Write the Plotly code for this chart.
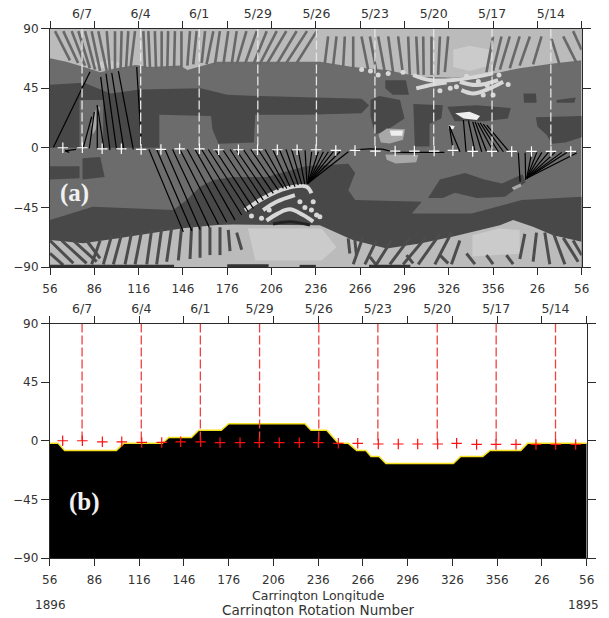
import plotly.graph_objects as go

# ---------- data (Carrington longitude unrolled 56..416, latitude in degrees) ----------
lon_ticks = [56, 86, 116, 146, 176, 206, 236, 266, 296, 326, 356, 386, 416]
lon_labels = ["56", "86", "116", "146", "176", "206", "236", "266", "296", "326", "356", "26", "56"]
lat_ticks = [-90, -45, 0, 45, 90]
date_lons = [77.7, 117.4, 157, 196.7, 236.4, 276, 315.8, 355.3, 395.1]
date_labels = ["6/7", "6/4", "6/1", "5/29", "5/26", "5/23", "5/20", "5/17", "5/14"]

plus_lon = [64.7, 77.9, 91.3, 104.3, 117.7, 131.1, 143.8, 157.2, 170.2, 183.6, 196.5, 209.9, 223.3, 236.1,
            249.5, 262.5, 276.3, 289.7, 302.7, 316.1, 328.8, 342.2, 355.2, 368.6, 382, 395.2, 408.6]
plus_lat = [0, 0, -0.8, -0.8, -1.3, -1.3, -0.8, -0.8, -1.5, -1.5, -1.5, -1.5, -1.5, -1.5,
            -2, -2, -2.5, -2.5, -2.5, -2.5, -2, -2.8, -2.8, -2.8, -2.8, -2.8, -2.8]

# panel (b) neutral-line boundary
ns_lon = [56, 61.6, 66, 100.7, 105.6, 131.5, 135.8, 151, 155.9, 171, 176, 227.1, 231.2, 241.7, 249.5,
          256.2, 261.8, 268, 271.4, 276.8, 281.4, 326.6, 331.5, 346.3, 351.2, 371.8, 376.3, 416]
ns_lat = [-2, -2, -7.4, -7.4, -2, -2, 2.5, 2.5, 8, 8, 13, 13, 8, 8, -2,
          -2, -7.4, -7.4, -12, -12, -17.4, -17.4, -12, -12, -7.4, -7.4, -2, -2]

# panel (a) dark regions: polygons of (lon, lat)
dark_regions = [
    [(56, 47.5), (79, 49), (97, 41), (117, 44), (158, 45), (176, 40), (198, 39), (225, 38), (267, 37), (272, 32),
     (267, 26), (229, 25), (195, 25), (194, 4), (170, 3), (166, 14), (165, 24), (130, 25), (130, 0), (92, 0),
     (92, 36), (76, 36), (76, 0), (56, 0)],
    [(273, 36), (279, 39), (293, 36), (296, 22), (285, 14), (276, 10), (273, 24)],
    [(302, 33), (322, 32), (321, 22), (313, 18), (313, 1), (303, 1)],
    [(325, 31), (345, 32), (368, 30), (366, 22), (350, 20), (330, 20)],
    [(283, 51), (297, 51), (299, 40), (288, 40), (283, 45)],
    [(376.5, 41), (385, 41), (385.5, 34), (377, 34)],
    [(399, 36), (412, 38), (411, 34), (399, 34)],
    [(385, 23), (416, 24), (416, 8), (405, 4), (396, 3), (392, 10), (386, 16)],
    [(56, -54.6), (85, -44.5), (139.5, -47), (148.5, -39.5), (157.6, -29.4), (166.6, -24.4), (180, -22), (202.7, -22),
     (229, -14), (258, -12), (262.6, -19), (258, -32), (262.6, -39.5), (307.7, -40.8), (301, -49.6), (341.5, -49.6),
     (375.4, -39.5), (416, -37), (416, -90), (56, -90)],
    [(312, -38), (320, -24), (337, -19), (350, -24), (362, -27), (376, -20), (378, -26), (364, -37), (345, -38),
     (330, -34), (322, -38)],
    [(56, -14), (76, -14), (76, -23), (56, -24)],
    [(78, -8), (90, -7), (93, -22), (78, -24)],
]

north_band = [(56, 90), (416, 90), (416, 66), (396.7, 63.6), (374, 60), (351.6, 55), (329, 52.8), (306, 53.6),
              (284, 58.6), (261, 61), (238.7, 65), (191, 65), (169, 65), (149, 58.6), (144, 62), (123, 61),
              (114, 62.4), (101, 60), (90, 57), (79, 61), (67, 65), (56, 67.5)]
south_band = [(56, -69.6), (78.6, -72), (101, -68.4), (124, -64.6), (146, -60.8), (169, -58.3), (180, -58), (238.7, -58.4),
              (261, -69.7), (284, -76), (306.4, -72.2), (329, -67), (342.5, -63.4), (360.6, -58.4), (369.6, -54.6),
              (383, -59.6), (396.7, -66), (416, -71), (416, -90), (56, -90)]
pale_patches = [
    [(329, 74), (340, 77), (354, 74), (354, 62), (340, 58), (329, 61)],
    [(342, -66), (360, -61), (374, -62), (374, -80), (342, -82)],
    [(190, -61), (240, -61), (250, -75), (240, -85), (195, -85)],
    [(84, 64), (90, 60), (100, 60), (104, 64), (96, 66)],
]
blob_grey = [
    [(278.4, 10), (284, 14.6), (296.4, 14), (295, 6), (286, 3.3), (280, 4)],
    [(283, -5), (305.4, -5.5), (304, -11), (290, -11.8), (284, -9)],
    [(368.6, -30), (374.5, -26.9), (375.4, -29), (370, -32)],
    [(84, 18), (88, 32), (90, 30), (87, 14), (85, 10)],
]
blob_white = [
    [(330.3, 26), (340, 27.2), (347.2, 24), (345, 21), (336, 22)],
    [(286, 13), (295, 13), (294.5, 9), (287, 9)],
    [(326, 17), (330, 16.5), (329, 14), (326, 14.5)],
]

# dark gaps between the open-field streaks: (lon_top, lat_top, lon_bottom, lat_bottom)
north_gaps = [
    (59.4, 88, 69.5, 66), (65, 88, 75, 64), (70.7, 88, 79.7, 62), (75.2, 88, 83, 60), (79.7, 88, 86.5, 59), (84.2, 88, 89.9, 58),
    (88.7, 88, 94.4, 58), (94.4, 88, 96.6, 58), (100, 88, 100, 59), (104.5, 88, 103.8, 59), (109, 88, 107.5, 60), (113.6, 88, 110.6, 61),
    (119.2, 88, 120.3, 60), (122.6, 88, 123.7, 60), (127, 88, 127.8, 59), (131.6, 88, 131.6, 59), (136, 88, 135.4, 59), (140.6, 88, 140, 60),
    (145, 88, 145, 61), (150.8, 88, 149, 62), (155.3, 88, 153, 63), (161, 88, 158.7, 64), (166.6, 88, 162, 63), (171, 88, 167.7, 63),
    (176.7, 88, 173.4, 63), (182.4, 88, 179, 63), (189, 88, 182.4, 63), (196, 88, 188, 63), (202.7, 88, 193.7, 63), (209.5, 88, 198, 63),
    (216, 88, 202.7, 63), (223, 88, 209.5, 63), (230, 88, 216, 64), (236.6, 88, 223, 64),
    (244.3, 84, 242, 63), (250, 84, 247.7, 62), (255.6, 84, 254.5, 61), (261.3, 84, 261.3, 60), (266.9, 84, 271.4, 59), (272.6, 84, 277, 58),
    (278.2, 84, 282.7, 57), (285, 84, 288.4, 56), (291.7, 84, 295, 55), (298.5, 84, 299.6, 55), (304, 84, 305.3, 55), (308.7, 84, 309, 55),
    (314.3, 84, 314.3, 55), (320, 84, 318.8, 55), (325.6, 84, 323.3, 57), (356, 84, 351.5, 57), (361.7, 84, 356, 58), (367.3, 84, 360.6, 59),
    (374, 84, 367.3, 60), (380.9, 84, 374, 62), (388.8, 84, 383.1, 63), (395.6, 82, 401.2, 62), (403.5, 84, 412.5, 64), (410.2, 88, 415.9, 74),
]
south_gaps = [
    (56, -70, 71.8, -87.2), (63.9, -70, 80.8, -87.2), (71.8, -70, 87.6, -86), (56, -79.7, 65, -88.5), (80.8, -70, 89.9, -83.5),
    (89.9, -70, 84.2, -88), (97.8, -66, 92.1, -88), (104.5, -65, 98.9, -88), (111.3, -64, 106.8, -88), (118, -63, 113.6, -88),
    (124.8, -62, 121.5, -88), (131.6, -61, 128.2, -88), (138.4, -60, 135, -86), (145.2, -59, 142.9, -85), (151.9, -59, 150.8, -84),
    (157.6, -59, 157.6, -83), (164.3, -60, 164.3, -81), (171.1, -60, 171.1, -81), (176.7, -62, 177.9, -78), (182.4, -64, 185.8, -77),
    (257.9, -68.4, 259, -79.8), (262.4, -69.7, 263.5, -81), (268, -67, 261.3, -88), (277, -70, 269.2, -88), (287.2, -70, 277, -88),
    (299.6, -68, 286.1, -88), (310.9, -67, 295.1, -88), (320, -65, 305.3, -88), (327.8, -64, 316.6, -88), (333.5, -70, 327.8, -88),
    (377.5, -65, 374.1, -84), (385.4, -64, 383.1, -86), (391, -64, 394.4, -88), (396.7, -64, 404.6, -88), (403.5, -68, 413.6, -86),
    (410.2, -70, 416, -81), (272.6, -82.3, 277, -88.6), (297.4, -81, 301.9, -87.3), (320, -81, 325.6, -87.3), (338, -79.8, 343.7, -87.8),
    (351.5, -81, 356, -87.8), (365, -81, 369.6, -87.8),
]
south_edge_dark = [(56, -89.5, 140, -89.5), (176, -89, 204, -89), (225, -89.5, 236, -89.5), (272, -89.5, 300, -89.5)]

# bright arcs and dots
light_arcs = [
    [(301.9, 54.9), (313, 51.1), (329, 51.1), (344.8, 53.6), (356, 56.1)],
    [(304, 44.8), (315.4, 47.8), (324.5, 49.3)],
    [(333.5, 49.8), (344.8, 47.3), (359.4, 51.1)],
    [(334.6, 43.5), (342.5, 41), (353.8, 44.8), (362.8, 49.8)],
    [(188, -47), (200.3, -38.2), (216, -30.6), (229.7, -29.4), (233, -34.4)],
    [(200.3, -47), (209.4, -40.7), (221.8, -35.7)],
    [(202.6, -55), (210.5, -49.5), (218.4, -46.5), (227.4, -50.8), (234.2, -55.8)],
]
dark_arc = [(207, -57.6), (218.4, -55.8), (232, -58.3)]
dot_lon = [278.2, 285, 331.2, 349.3, 356, 366.2, 295, 225.2, 234.2, 228.6, 233, 236.5, 192.4, 199.2, 204.4, 238.7,
           267, 273, 320, 327, 338, 346, 352, 360]
dot_lat = [54.9, 56.1, 46, 39.8, 39.8, 47.8, 57, -40.7, -40.7, -45, -47, -50.8, -51.5, -53.3, -47, -52,
           59, 58, 43, 45, 54, 50, 47, 55]

# black field-line segments: (lon_equator, lat_equator, lon_end, lat_end)
field_lines = [
    (58.3, 0.3, 83.1, 57.4), (78.6, 0.3, 84.2, 23.4), (82.6, -0.5, 86, 27), (88, -1.3, 88, 32), (92.6, -1.3, 88, 32),
    (96.6, -1.8, 90.3, 53.5), (101.1, -1.8, 93.9, 56), (106.1, -1.8, 97.8, 56.5), (112.4, -1.3, 102.3, 57.9), (118, 0.3, 114.7, 61),
    (73.6, -1.3, 66.2, -2.3), (66.2, -2.3, 69, -3.5),
    (123, -1.3, 146.3, -63.5), (128.2, -1.3, 152, -62.7), (133.9, -1.3, 157.6, -61.7), (139, -1.3, 163.9, -60.2), (144, -1.3, 170, -57.7),
    (149, -1.3, 175.6, -56), (154.2, -1.3, 181.3, -54.6), (158.7, -1.3, 185.8, -50.8), (163.2, -1.3, 190.3, -48.3), (167.7, -1.3, 193.7, -45.8),
    (172.9, -1.3, 197.1, -42), (177.9, -1.3, 200.4, -39.5), (181.9, -1.3, 203.8, -37), (186.9, -1.3, 207.2, -34.5), (191.9, -1.3, 210.6, -32),
    (197, -1.3, 214, -30.7), (201.6, -1.3, 216.3, -30.7), (206.8, -1.3, 218.5, -29.4), (211.3, -1.3, 221.9, -29.4), (215.8, -1.3, 224.1, -28.2),
    (219.6, -1.3, 226.4, -27.7), (224, -1.5, 228.5, -27.5), (228.7, -2, 230, -27), (233.2, -3, 230.5, -27), (237.7, -3, 230.5, -27),
    (241.1, -3, 230.5, -27), (244.5, -3, 230.5, -27), (247.9, -3, 230.5, -27), (252.4, -3, 230.5, -27), (258, -3, 230.5, -27),
    (262.6, -1.5, 272, -0.8), (272, -0.8, 281, -1), (281, -1, 288, -3), (288, -3, 294, -3.5), (294, -3.5, 323, -3.5),
    (329.1, -3, 326.4, 16.4), (333.6, -3, 326.4, 16.4), (337.7, -3, 335.9, 20.9), (343.8, -3, 339.3, 20.4), (348.3, -3, 342.2, 19.6),
    (351.7, -3, 343.8, 19.6), (356.2, -3, 345.6, 18.9), (359.6, -3, 347.2, 18.9), (363, -3, 349.4, 17.9), (366.4, -2.3, 351.7, 17.1),
    (373.1, -3.8, 374.3, -25.7), (377.7, -3.8, 378.1, -24.4), (382.2, -3.5, 378.8, -23), (385.6, -3.5, 378.8, -23), (389, -3.5, 378.8, -23),
    (393.5, -3.5, 378.8, -23), (398, -3.5, 378.8, -23), (402.5, -3.5, 378.8, -23), (405.9, -3.5, 378.8, -23), (412.6, -4, 378.8, -23),
]

# ---------- colours ----------
MID, DARK, LIGHT, GAP = "#6c6c6c", "#484848", "#bbbbbb", "#686868"
INK = "#2a2a2a"


def poly(points, color):
    xs = [p[0] for p in points] + [points[0][0]]
    ys = [p[1] for p in points] + [points[0][1]]
    return go.Scatter(x=xs, y=ys, mode="lines", fill="toself", fillcolor=color, line=dict(width=0),
                      hoverinfo="skip", showlegend=False)


def segments(items, color, width):
    xs, ys = [], []
    for a, b, c, d in items:
        xs += [a, c, None]
        ys += [b, d, None]
    return go.Scatter(x=xs, y=ys, mode="lines", line=dict(color=color, width=width),
                      hoverinfo="skip", showlegend=False)


def dashed(color, xaxis, yaxis):
    xs, ys = [], []
    for v in date_lons:
        xs += [v, v, None]
        ys += [90, 0, None]
    return go.Scatter(x=xs, y=ys, mode="lines", xaxis=xaxis, yaxis=yaxis, hoverinfo="skip", showlegend=False,
                      line=dict(color=color, width=1.3, dash="9px,3px"))


def plus(color, xaxis, yaxis):
    return go.Scatter(x=plus_lon, y=plus_lat, mode="markers", xaxis=xaxis, yaxis=yaxis, hoverinfo="skip", showlegend=False,
                      marker=dict(symbol="cross-thin", size=7.5, line=dict(color=color, width=1.2)))


fig = go.Figure()
fig.add_trace(poly([(56, -90), (416, -90), (416, 90), (56, 90)], MID))
for region in dark_regions:
    fig.add_trace(poly(region, DARK))
fig.add_trace(poly(north_band, LIGHT))
fig.add_trace(poly(south_band, LIGHT))
for patch in pale_patches:
    fig.add_trace(poly(patch, "#cbcbcb"))
fig.add_trace(segments(north_gaps, GAP, 2.6))
fig.add_trace(segments(south_gaps, "#4c4c4c", 3))
fig.add_trace(segments(south_edge_dark, "#333333", 3))
for blob in blob_grey:
    fig.add_trace(poly(blob, "#a8a8a8"))
for blob in blob_white:
    fig.add_trace(poly(blob, "#eeeeee"))
for arc in light_arcs:
    fig.add_trace(go.Scatter(x=[p[0] for p in arc], y=[p[1] for p in arc], mode="lines", hoverinfo="skip", showlegend=False,
                             line=dict(color="#d8d8d8", width=4, shape="spline")))
fig.add_trace(go.Scatter(x=[p[0] for p in dark_arc], y=[p[1] for p in dark_arc], mode="lines", hoverinfo="skip", showlegend=False,
                         line=dict(color="#222222", width=3, shape="spline")))
fig.add_trace(go.Scatter(x=dot_lon, y=dot_lat, mode="markers", hoverinfo="skip", showlegend=False,
                         marker=dict(color="#d8d8d8", size=5, symbol="circle")))
fig.add_trace(segments(field_lines, "#000000", 1.2))
fig.add_trace(dashed("#e6e6e6", "x3", "y"))
fig.add_trace(plus("#ffffff", "x3", "y"))

fig.add_trace(go.Scatter(x=ns_lon, y=[-90] * len(ns_lon), mode="lines", line=dict(width=0), xaxis="x2", yaxis="y2",
                         hoverinfo="skip", showlegend=False))
fig.add_trace(go.Scatter(x=ns_lon, y=ns_lat, mode="lines", fill="tonexty", fillcolor="#000000", xaxis="x2", yaxis="y2",
                         line=dict(color="#f5e020", width=1.5), hoverinfo="skip", showlegend=False))
fig.add_trace(dashed("#f04040", "x4", "y2"))
fig.add_trace(plus("#ff1010", "x4", "y2"))

W, H = 609, 618
tick_font = dict(family="DejaVu Sans", size=12, color="#333333")
common_x = dict(range=[56, 416], tickmode="array", tickvals=lon_ticks, ticktext=lon_labels, ticks="outside", ticklen=7,
                tickcolor=INK, showline=True, linecolor=INK, linewidth=1, mirror="allticks", showgrid=False, zeroline=False,
                tickfont=tick_font, ticklabelstandoff=4)
common_y = dict(range=[-90, 90], tickmode="array", tickvals=lat_ticks, ticks="outside", ticklen=8, tickcolor=INK,
                showline=True, linecolor=INK, linewidth=1, mirror="allticks", showgrid=False, zeroline=False, tickfont=tick_font)
date_axis = dict(range=[56, 416], tickmode="array", tickvals=date_lons, ticktext=date_labels, side="top", ticks="outside",
                 ticklen=5, tickcolor="rgba(0,0,0,0)", showline=False, showgrid=False, zeroline=False,
                 tickfont=dict(family="DejaVu Sans", size=12.5, color="#333333"))
label = dict(xref="paper", yref="paper", showarrow=False, xanchor="center", yanchor="middle", borderpad=0, height=13)
fig.update_layout(
    width=W, height=H, margin=dict(l=0, r=0, t=0, b=0, autoexpand=False), paper_bgcolor="white", plot_bgcolor="white",
    showlegend=False,
    xaxis=dict(domain=[50 / W, 581.7 / W], anchor="y", **common_x),
    yaxis=dict(domain=[1 - 267 / H, 1 - 28.5 / H], anchor="x", **common_y),
    xaxis2=dict(domain=[49.7 / W, 586.7 / W], anchor="y2", **common_x),
    yaxis2=dict(domain=[1 - 558 / H, 1 - 323.5 / H], anchor="x2", **common_y),
    xaxis3=dict(overlaying="x", anchor="y", **date_axis),
    xaxis4=dict(overlaying="x2", anchor="y2", **date_axis),
    annotations=[
        dict(text="<b>(a)</b>", x=72.7, y=-34.5, xref="x", yref="y", showarrow=False, xanchor="center", yanchor="middle",
             font=dict(family="Liberation Serif", size=25, color="#f0f0f0")),
        dict(text="<b>(b)</b>", x=79, y=-47, xref="x2", yref="y2", showarrow=False, xanchor="center", yanchor="middle",
             font=dict(family="Liberation Serif", size=25, color="#f0f0f0")),
        dict(text="Carrington Longitude", x=318 / W, y=1 - 595 / H, font=dict(family="DejaVu Sans", size=12.5, color="#333333"), **label),
        dict(text="Carrington Rotation Number", x=318 / W, y=1 - 609 / H, font=dict(family="DejaVu Sans", size=13.6, color="#333333"), **label),
        dict(text="1896", x=50 / W, y=1 - 604 / H, font=dict(family="DejaVu Sans", size=12, color="#333333"), **label),
        dict(text="1895", x=583 / W, y=1 - 604 / H, font=dict(family="DejaVu Sans", size=12, color="#333333"), **label),
    ],
)
fig.write_html("out.html", post_script="document.body.style.margin='0';", config=dict(displayModeBar=False))
